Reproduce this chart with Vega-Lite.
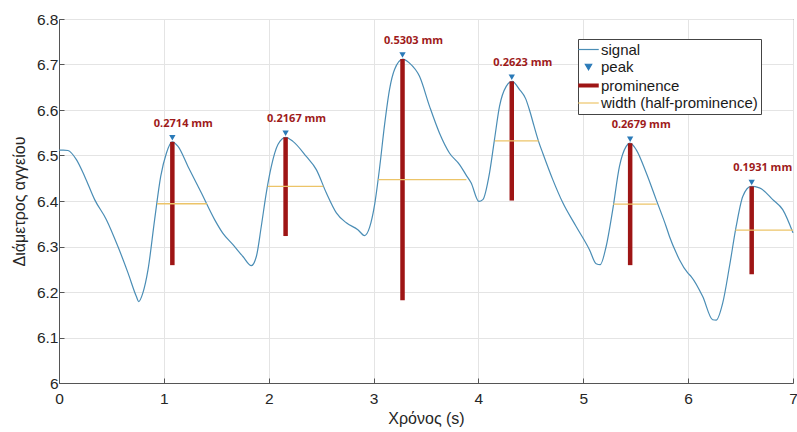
{
  "$schema": "https://vega.github.io/schema/vega-lite/v6.json",
  "width": 734,
  "height": 364,
  "autosize": "none",
  "padding": {"left": 59, "top": 19, "right": 4, "bottom": 49},
  "background": "white",
  "config": {
    "view": {"stroke": "#555555", "strokeWidth": 1},
    "font": "Liberation Sans",
    "axis": {
      "labelFont": "Liberation Sans",
      "titleFont": "Liberation Sans",
      "labelFontSize": 15.5,
      "titleFontSize": 16,
      "labelColor": "#262626",
      "titleColor": "#262626",
      "titleFontWeight": "normal",
      "gridColor": "#e4e4e4",
      "gridWidth": 1,
      "domainColor": "#555555",
      "tickColor": "#555555",
      "tickSize": -5,
      "labelPadding": 6,
      "labelFlush": false
    }
  },
  "datasets": {
    "signal": [
      {"t": 0.0, "d": 6.512}, {"t": 0.04, "d": 6.512}, {"t": 0.086, "d": 6.511}, {"t": 0.166, "d": 6.491},
      {"t": 0.245, "d": 6.454}, {"t": 0.34, "d": 6.403}, {"t": 0.452, "d": 6.359}, {"t": 0.562, "d": 6.3},
      {"t": 0.658, "d": 6.242}, {"t": 0.738, "d": 6.19}, {"t": 0.76, "d": 6.179}, {"t": 0.8, "d": 6.198},
      {"t": 0.849, "d": 6.249}, {"t": 0.912, "d": 6.359}, {"t": 0.97, "d": 6.454}, {"t": 1.024, "d": 6.505},
      {"t": 1.078, "d": 6.53}, {"t": 1.135, "d": 6.52}, {"t": 1.23, "d": 6.476}, {"t": 1.357, "d": 6.418},
      {"t": 1.484, "d": 6.359}, {"t": 1.56, "d": 6.33}, {"t": 1.659, "d": 6.304}, {"t": 1.754, "d": 6.278},
      {"t": 1.834, "d": 6.258}, {"t": 1.882, "d": 6.278}, {"t": 1.929, "d": 6.344}, {"t": 1.977, "d": 6.418},
      {"t": 2.025, "d": 6.476}, {"t": 2.088, "d": 6.524}, {"t": 2.161, "d": 6.54}, {"t": 2.231, "d": 6.531},
      {"t": 2.358, "d": 6.498}, {"t": 2.454, "d": 6.469}, {"t": 2.549, "d": 6.418}, {"t": 2.645, "d": 6.374},
      {"t": 2.74, "d": 6.352}, {"t": 2.85, "d": 6.337}, {"t": 2.914, "d": 6.324}, {"t": 2.962, "d": 6.342},
      {"t": 3.01, "d": 6.392}, {"t": 3.057, "d": 6.472}, {"t": 3.105, "d": 6.568}, {"t": 3.152, "d": 6.645},
      {"t": 3.2, "d": 6.689}, {"t": 3.279, "d": 6.712}, {"t": 3.343, "d": 6.703}, {"t": 3.438, "d": 6.674},
      {"t": 3.534, "d": 6.608}, {"t": 3.629, "d": 6.549}, {"t": 3.725, "d": 6.505}, {"t": 3.82, "d": 6.48},
      {"t": 3.88, "d": 6.458}, {"t": 3.93, "d": 6.44}, {"t": 4.004, "d": 6.399}, {"t": 4.042, "d": 6.403},
      {"t": 4.106, "d": 6.462}, {"t": 4.153, "d": 6.535}, {"t": 4.201, "d": 6.608}, {"t": 4.265, "d": 6.652},
      {"t": 4.322, "d": 6.663}, {"t": 4.392, "d": 6.645}, {"t": 4.45, "d": 6.625}, {"t": 4.487, "d": 6.6},
      {"t": 4.53, "d": 6.565}, {"t": 4.575, "d": 6.53}, {"t": 4.614, "d": 6.505}, {"t": 4.709, "d": 6.447},
      {"t": 4.805, "d": 6.396}, {"t": 4.932, "d": 6.344}, {"t": 5.059, "d": 6.293}, {"t": 5.123, "d": 6.262},
      {"t": 5.161, "d": 6.26}, {"t": 5.218, "d": 6.3}, {"t": 5.281, "d": 6.381}, {"t": 5.345, "d": 6.476},
      {"t": 5.409, "d": 6.52}, {"t": 5.445, "d": 6.527}, {"t": 5.504, "d": 6.513}, {"t": 5.6, "d": 6.462},
      {"t": 5.695, "d": 6.403}, {"t": 5.79, "d": 6.344}, {"t": 5.822, "d": 6.322}, {"t": 5.886, "d": 6.286},
      {"t": 5.917, "d": 6.271}, {"t": 5.996, "d": 6.242}, {"t": 6.029, "d": 6.234}, {"t": 6.139, "d": 6.19},
      {"t": 6.234, "d": 6.139}, {"t": 6.267, "d": 6.138}, {"t": 6.33, "d": 6.176}, {"t": 6.394, "d": 6.256},
      {"t": 6.458, "d": 6.344}, {"t": 6.521, "d": 6.41}, {"t": 6.6, "d": 6.432}, {"t": 6.68, "d": 6.429},
      {"t": 6.807, "d": 6.403}, {"t": 6.902, "d": 6.381}, {"t": 7.0, "d": 6.33}
    ],
    "peaks": [
      {"t": 1.081, "peak": 6.53, "base": 6.259, "half": 6.394, "w1": 0.935, "w2": 1.41, "label": "0.2714 mm"},
      {"t": 2.161, "peak": 6.54, "base": 6.323, "half": 6.432, "w1": 1.99, "w2": 2.52, "label": "0.2167 mm"},
      {"t": 3.276, "peak": 6.712, "base": 6.182, "half": 6.447, "w1": 3.045, "w2": 3.885, "label": "0.5303 mm"},
      {"t": 4.318, "peak": 6.663, "base": 6.401, "half": 6.532, "w1": 4.155, "w2": 4.575, "label": "0.2623 mm"},
      {"t": 5.447, "peak": 6.527, "base": 6.259, "half": 6.393, "w1": 5.285, "w2": 5.7, "label": "0.2679 mm"},
      {"t": 6.606, "peak": 6.432, "base": 6.239, "half": 6.336, "w1": 6.45, "w2": 7.0, "label": "0.1931 mm"}
    ]
  },
  "layer": [
    {
      "data": {"name": "signal"},
      "mark": {"type": "line", "strokeWidth": 1.2, "interpolate": "monotone"},
      "encoding": {
        "x": {"field": "t", "type": "quantitative", "scale": {"domain": [0, 7], "nice": false},
          "axis": {"title": "Χρόνος (s)", "values": [0, 1, 2, 3, 4, 5, 6, 7], "format": "d", "grid": true, "labelPadding": 13, "titlePadding": 4}},
        "y": {"field": "d", "type": "quantitative", "scale": {"domain": [6, 6.8], "nice": false, "zero": false},
          "axis": {"title": "Διάμετρος αγγείου", "values": [6, 6.1, 6.2, 6.3, 6.4, 6.5, 6.6, 6.7, 6.8], "format": ".1~f", "grid": true, "titlePadding": 9}},
        "color": {
          "datum": "signal",
          "scale": {
            "domain": ["signal", "peak", "prominence", "width (half-prominence)"],
            "range": ["#4a8db5", "#2a7ab8", "#9e1515", "#ecc468"]
          },
          "legend": {
            "title": null,
            "orient": "none",
            "legendX": 519,
            "legendY": 20,
            "padding": 3,
            "strokeColor": "#444444",
            "fillColor": "white",
            "labelFont": "Liberation Sans",
            "labelFontSize": 15,
            "labelLimit": 400,
            "labelColor": "#1a1a1a",
            "labelOffset": 5,
            "rowPadding": 1.5,
            "symbolType": "stroke",
            "symbolSize": 420,
            "symbolStrokeWidth": 1.2,
            "encode": {
              "symbols": {
                "update": {
                  "shape": {"signal": "datum.value === 'peak' ? 'triangle-down' : 'stroke'"},
                  "size": {"signal": "datum.value === 'peak' ? 40 : 420"},
                  "fill": {"signal": "datum.value === 'peak' ? '#2a7ab8' : 'transparent'"},
                  "stroke": {"signal": "datum.value === 'signal' ? '#4a8db5' : datum.value === 'peak' ? 'transparent' : datum.value === 'prominence' ? '#9e1515' : '#ecc468'"},
                  "strokeWidth": {"signal": "datum.value === 'prominence' ? 4 : 1.2"},
                  "opacity": {"value": 1}
                }
              }
            }
          }
        }
      }
    },
    {
      "data": {"name": "peaks"},
      "mark": {"type": "rule", "strokeWidth": 4.5},
      "encoding": {
        "x": {"field": "t", "type": "quantitative"},
        "y": {"field": "base", "type": "quantitative"},
        "y2": {"field": "peak"},
        "color": {"datum": "prominence"}
      }
    },
    {
      "data": {"name": "peaks"},
      "mark": {"type": "rule", "strokeWidth": 1.3},
      "encoding": {
        "x": {"field": "w1", "type": "quantitative"},
        "x2": {"field": "w2"},
        "y": {"field": "half", "type": "quantitative"},
        "color": {"datum": "width (half-prominence)"}
      }
    },
    {
      "data": {"name": "peaks"},
      "mark": {"type": "point", "shape": "triangle-down", "filled": true, "size": 40, "opacity": 1, "yOffset": -4},
      "encoding": {
        "x": {"field": "t", "type": "quantitative"},
        "y": {"field": "peak", "type": "quantitative"},
        "color": {"datum": "peak"}
      }
    },
    {
      "data": {"name": "peaks"},
      "mark": {"type": "text", "font": "Open Sans", "fontWeight": "bold", "fontSize": 11, "color": "#9e1a1a", "dx": 11, "dy": -18, "baseline": "middle", "align": "center"},
      "encoding": {
        "x": {"field": "t", "type": "quantitative"},
        "y": {"field": "peak", "type": "quantitative"},
        "text": {"field": "label"}
      }
    }
  ]
}
